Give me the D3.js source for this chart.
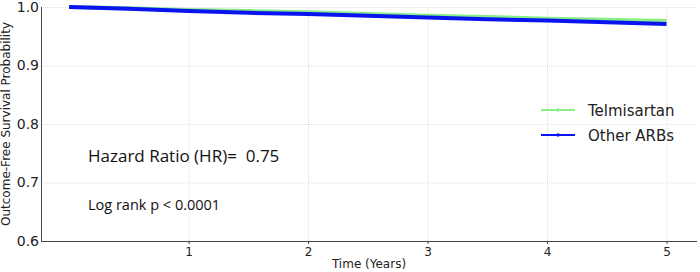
<!DOCTYPE html>
<html>
<head>
<meta charset="utf-8">
<style>
  body { margin: 0; background: #fff; }
  .grid line { stroke: #ddd; stroke-dasharray: 1,1; }
  .grid path { display: none; }
  .axis text { font-family: "DejaVu Sans", sans-serif; fill: #222; }
  .axis path, .axis line { stroke: #444; }
</style>
<script src="https://cdn.jsdelivr.net/npm/d3@7"></script>
</head>
<body>
<script>
  // survival curves
  const years = [0, 0.5, 1, 1.5, 2, 2.5, 3, 3.5, 4, 4.5, 5];
  const telmisartan = [1.0, 0.998, 0.995, 0.993, 0.991, 0.988, 0.985, 0.983, 0.980, 0.978, 0.976];
  const otherARBs   = [1.0, 0.997, 0.993, 0.990, 0.988, 0.985, 0.982, 0.979, 0.977, 0.974, 0.971];
  const xTicks = [1, 2, 3, 4, 5];
  const yTicks = [0.6, 0.7, 0.8, 0.9, 1.0];
  const seriesNames = ["Telmisartan", "Other ARBs"];
  const seriesColors = ["#88ee88", "#0a14f0"];

  const W = 700, H = 272;
  const margin = { top: 7, right: 3, bottom: 31, left: 41 };
  const width = W - margin.left - margin.right;
  const height = H - margin.top - margin.bottom;

  const x = d3.scaleLinear().domain([-0.235, 5.255]).range([0, width]);
  const y = d3.scaleLinear().domain([0.6, 1.0]).range([height, 0]);

  const svg = d3.select("body").append("svg")
    .attr("width", W).attr("height", H)
    .append("g")
    .attr("transform", `translate(${margin.left},${margin.top})`);

  // grid
  svg.append("g").attr("class", "grid")
    .attr("transform", `translate(0,${height})`)
    .call(d3.axisBottom(x).tickValues(xTicks).tickSize(-height).tickFormat(""));
  svg.append("g").attr("class", "grid")
    .call(d3.axisLeft(y).tickValues(yTicks).tickSize(-width).tickFormat(""));

  // curves: green first, blue drawn over it
  const line = d3.line().x((d, i) => x(years[i])).y(d => y(d));
  [telmisartan, otherARBs].forEach((s, k) => {
    svg.append("path")
      .datum(s)
      .attr("fill", "none")
      .attr("stroke", seriesColors[k])
      .attr("stroke-width", 4)
      .attr("d", line);
  });

  // axes
  const xAxis = svg.append("g").attr("class", "axis")
    .attr("transform", `translate(0,${height})`)
    .call(d3.axisBottom(x).tickValues(xTicks).tickSize(3).tickFormat(d3.format("d")));
  xAxis.select(".domain").attr("d", `M0,0.5H${width}`);
  xAxis.selectAll("text").style("font-size", "12px");

  const yAxis = svg.append("g").attr("class", "axis")
    .call(d3.axisLeft(y).tickValues(yTicks).tickSize(0).tickPadding(2).tickFormat(d3.format(".1f")));
  yAxis.select(".domain").attr("d", `M0.5,0V${height}`);
  yAxis.selectAll("text").style("font-size", "14px");

  svg.append("text")
    .attr("x", width / 2).attr("y", height + 27)
    .attr("text-anchor", "middle")
    .style("font-family", "DejaVu Sans, sans-serif").style("font-size", "12px").attr("fill", "#222")
    .text("Time (Years)");

  svg.append("text")
    .attr("transform", "rotate(-90)")
    .attr("x", -height / 2).attr("y", -31)
    .attr("text-anchor", "middle")
    .style("font-family", "DejaVu Sans, sans-serif").style("font-size", "12px").attr("fill", "#222")
    .text("Outcome-Free Survival Probability");

  // annotations
  svg.append("text")
    .attr("x", 47).attr("y", 155)
    .style("font-family", "Open Sans, sans-serif").style("font-size", "17px")
    .style("white-space", "pre").attr("fill", "#111")
    .text("Hazard Ratio (HR)=  0.75");
  svg.append("text")
    .attr("x", 47).attr("y", 203)
    .style("font-family", "Open Sans, sans-serif").style("font-size", "14.5px").attr("fill", "#111")
    .text("Log rank p < 0.0001");

  // legend
  const legend = svg.append("g").attr("transform", `translate(${541 - margin.left},${110 - margin.top})`);
  seriesNames.forEach((name, i) => {
    const g = legend.append("g").attr("transform", `translate(0,${i * 25})`);
    g.append("line").attr("x1", 0).attr("x2", 34).attr("y1", 0).attr("y2", 0)
      .attr("stroke", seriesColors[i]).attr("stroke-width", 2);
    g.append("circle").attr("cx", 17).attr("cy", 0).attr("r", 1.8).attr("fill", seriesColors[i]);
    g.append("text").attr("x", 47).attr("y", 5.5)
      .style("font-family", "DejaVu Sans, sans-serif").style("font-size", "15px").attr("fill", "#222")
      .text(name);
  });
</script>
</body>
</html>
